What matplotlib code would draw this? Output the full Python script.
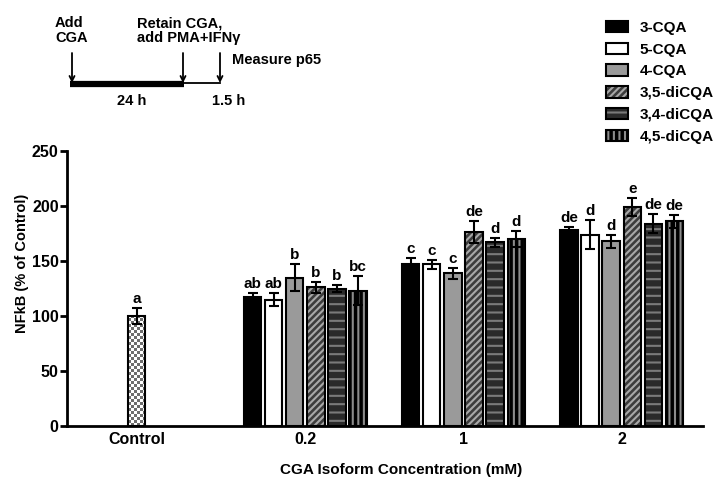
import numpy as np
import matplotlib
matplotlib.use('Agg')
from matplotlib import pyplot as plt
from matplotlib.patches import Patch
from matplotlib.colors import ListedColormap
from matplotlib.legend_handler import HandlerTuple

# NFkB p65 after CGA isoform pre-treatment, grouped bars with letter groups

plt.rcParams['font.family'] = ['Liberation Sans', 'DejaVu Sans']
plt.rcParams['font.weight'] = 'bold'
plt.rcParams['hatch.linewidth'] = 1.5

concentrations = ['0.2', '1', '2']
isoforms = ['3-CQA', '5-CQA', '4-CQA', '3,5-diCQA', '3,4-diCQA', '4,5-diCQA']

control_mean = 100
control_err = 7.5
control_letter = 'a'

# rows = isoform, columns = concentration
means = np.array([[117, 147, 178],
                  [115, 147, 174],
                  [135, 139, 168],
                  [126, 176, 199],
                  [125, 167, 184],
                  [123, 170, 186]])
errs = np.array([[4, 6, 3],
                 [6, 4, 13],
                 [12, 5, 6],
                 [5, 10, 8],
                 [3, 4, 9],
                 [13, 7, 6]])
letters = [['ab', 'c', 'de'],
           ['ab', 'c', 'd'],
           ['b', 'c', 'd'],
           ['b', 'de', 'e'],
           ['b', 'd', 'de'],
           ['bc', 'd', 'de']]

# face, hatch, hatch colour
styles = [('black', '', 'black'),
          ('white', '', 'white'),
          ('#9a9a9a', '', '#9a9a9a'),
          ('#3c3c3c', '/////', '#a8a8a8'),
          ('#2a2a2a', '--', '#7a7a7a'),
          ('black', '|||', '#8c8c8c')]

group_pos = np.array([8.0, 15.5, 23.0])
bw = 0.82
lw = 1.5

fig = plt.figure(figsize=(7.16, 4.79), dpi=100)
ax = fig.add_axes([0.0936, 0.1106, 0.888, 0.5742])
ax.set_xlim(-3.3, 26.85)
ax.set_ylim(0, 250)


def label_above(x, top, txt):
    ax.annotate(txt, (x, top), xytext=(0, 1.5), textcoords='offset points',
                ha='center', va='bottom', fontsize=11, fontweight='bold')


# control bar, checkerboard fill
ctrl = ax.bar(0, control_mean, width=bw, color='white', edgecolor='none', zorder=2)[0]
p0 = ax.transData.transform((-bw / 2, 0))
p1 = ax.transData.transform((bw / 2, control_mean))
ncols = max(int(round((p1[0] - p0[0]) / 3)), 1)
nrows = max(int(round((p1[1] - p0[1]) / 3)), 1)
checker = np.indices((nrows, ncols)).sum(0) % 2
ax.imshow(checker, cmap=ListedColormap(['white', '#6e6e6e']),
          extent=(-bw / 2, bw / 2, 0, control_mean), aspect='auto',
          interpolation='nearest', clip_path=ctrl, zorder=2.5)
ax.bar(0, control_mean, width=bw, fill=False, edgecolor='k', lw=lw, zorder=3)
ax.errorbar(0, control_mean, yerr=control_err, fmt='none', ecolor='k',
            elinewidth=lw, capsize=3.5, capthick=lw, zorder=4)
label_above(0, control_mean + control_err, control_letter)

handles = []
for i, name in enumerate(isoforms):
    fc, hatch, hc = styles[i]
    x = group_pos + (i - 2.5)
    ax.bar(x, means[i], width=bw, color=fc, hatch=hatch, edgecolor=hc, lw=0, zorder=2)
    ax.bar(x, means[i], width=bw, fill=False, edgecolor='k', lw=lw, zorder=3)
    ax.errorbar(x, means[i], yerr=errs[i], fmt='none', ecolor='k',
                elinewidth=lw, capsize=3.5, capthick=lw, zorder=4)
    for j in range(len(concentrations)):
        label_above(x[j], means[i][j] + errs[i][j], letters[i][j])
    handles.append((Patch(facecolor=fc, hatch=hatch, edgecolor=hc, lw=0),
                    Patch(fill=False, edgecolor='k', lw=lw)))

ax.set_xlim(-3.3, 26.85)
ax.set_ylim(0, 250)
ax.set_xticks([0] + list(group_pos))
ax.set_xticklabels(['Control'] + concentrations, fontsize=11.5, fontweight='bold')
ax.set_yticks(np.arange(0, 251, 50))
ax.tick_params(axis='y', width=2, length=5, labelsize=11.5, pad=1)
ax.tick_params(axis='x', length=0, pad=4)
for lab in ax.get_yticklabels():
    lab.set_fontweight('bold')
for s in ['top', 'right']:
    ax.spines[s].set_visible(False)
for s in ['left', 'bottom']:
    ax.spines[s].set_linewidth(2)

ax.set_ylabel('NFkB (% of Control)', fontsize=10.5, fontweight='bold')
ax.yaxis.set_label_coords(-0.06, 0.593)
ax.set_xlabel('CGA Isoform Concentration (mM)', fontsize=11, fontweight='bold')
ax.xaxis.set_label_coords(0.525, -0.135)

fig.legend(handles, isoforms, handler_map={tuple: HandlerTuple(ndivide=1)},
           loc='upper left', bbox_to_anchor=(606 / 716, 1 - 21 / 479),
           frameon=False, borderpad=0, borderaxespad=0,
           handlelength=1.45, handleheight=0.78, handletextpad=0.75,
           labelspacing=0.5, prop={'weight': 'bold', 'size': 11})

# timeline sketch in pixel coordinates
ovl = fig.add_axes([0, 0, 1, 1], zorder=-1)
ovl.set_xlim(0, 716)
ovl.set_ylim(479, 0)
ovl.axis('off')
ovl.plot([70, 184], [84, 84], color='k', lw=4.5, solid_capstyle='butt')
ovl.plot([184, 220], [83, 83], color='k', lw=1.3)
for ax_x in [72, 183, 220]:
    ovl.annotate('', xy=(ax_x, 83), xytext=(ax_x, 53),
                 arrowprops=dict(arrowstyle='->', lw=1.3, color='k',
                                 shrinkA=0, shrinkB=0, mutation_scale=9))
txt = dict(fontsize=10.5, fontweight='bold', linespacing=1.05)
ovl.text(55, 16, 'Add\nCGA', ha='left', va='top', **txt)
ovl.text(137, 16, 'Retain CGA,\nadd PMA+IFN\u03b3', ha='left', va='top', **txt)
ovl.text(232, 60, 'Measure p65', ha='left', va='center', **txt)
ovl.text(132, 101, '24 h', ha='center', va='center', **txt)
ovl.text(229, 101, '1.5 h', ha='center', va='center', **txt)

fig.savefig('out.png', dpi=100)
